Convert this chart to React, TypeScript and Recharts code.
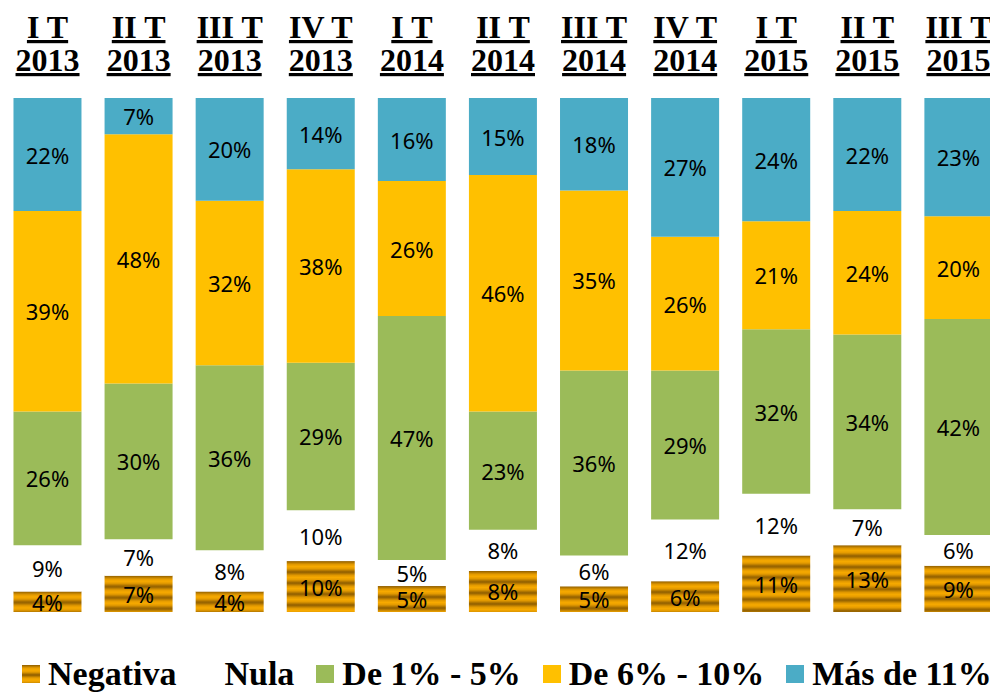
import React from 'react'
import { BarChart, Bar, XAxis, YAxis, LabelList, Legend } from 'recharts'

const quarters = ['I T', 'II T', 'III T', 'IV T', 'I T', 'II T', 'III T', 'IV T', 'I T', 'II T', 'III T']
const years = ['2013', '2013', '2013', '2013', '2014', '2014', '2014', '2014', '2015', '2015', '2015']

const negativa = [4, 7, 4, 10, 5, 8, 5, 6, 11, 13, 9]
const nula = [9, 7, 8, 10, 5, 8, 6, 12, 12, 7, 6]
const de1a5 = [26, 30, 36, 29, 47, 23, 36, 29, 32, 34, 42]
const de6a10 = [39, 48, 32, 38, 26, 46, 35, 26, 21, 24, 20]
const mas11 = [22, 7, 20, 14, 16, 15, 18, 27, 24, 22, 23]

const data = quarters.map((q, i) => ({
  name: `${q}|${years[i]}`,
  negativa: negativa[i],
  nula: nula[i],
  de1a5: de1a5[i],
  de6a10: de6a10[i],
  mas11: mas11[i],
}))

const series = [
  { key: 'negativa', name: 'Negativa', color: '#D08A00' },
  { key: 'nula', name: 'Nula', color: '#FFFFFF' },
  { key: 'de1a5', name: 'De 1% - 5%', color: '#9BBB59' },
  { key: 'de6a10', name: 'De 6% - 10%', color: '#FFC000' },
  { key: 'mas11', name: 'Más de 11%', color: '#4BACC6' },
]

const serif = '"Liberation Serif", "Times New Roman", serif'
const sans = '"Noto Sans", "Open Sans", sans-serif'
const stripes = 'repeating-linear-gradient(180deg, #8C5C00 0px, #E89E00 3px, #F7AA00 5px, #E89E00 7px, #8C5C00 10px)'

// striped fill for the "Negativa" segments
const StripedBar = (props: any) => {
  const { x, y, width, height, index } = props
  if (!height || height <= 0) return null
  const pid = `neg-pat-${index}`
  const gid = `neg-grad-${index}`
  return (
    <g>
      <defs>
        <linearGradient id={gid} x1="0" y1="0" x2="0" y2="1">
          <stop offset="0" stopColor="#8C5C00" />
          <stop offset="0.3" stopColor="#E39A00" />
          <stop offset="0.5" stopColor="#F7AA00" />
          <stop offset="0.7" stopColor="#E39A00" />
          <stop offset="1" stopColor="#8C5C00" />
        </linearGradient>
        <pattern id={pid} patternUnits="userSpaceOnUse" x={0} y={y} width={10} height={11}>
          <rect x={0} y={0} width={10} height={11} fill={`url(#${gid})`} />
        </pattern>
      </defs>
      <rect x={x} y={y} width={width} height={height} fill={`url(#${pid})`} />
    </g>
  )
}

const QuarterTick = (props: any) => {
  const { x, y, payload } = props
  const [q, yr] = String(payload.value).split('|')
  return (
    <text
      x={x}
      y={y}
      textAnchor="middle"
      fontFamily={serif}
      fontWeight="bold"
      fontSize={32}
      fill="#000"
      style={{ textDecoration: 'underline' }}
    >
      <tspan x={x} dy={-52}>{q}</tspan>
      <tspan x={x} dy={33}>{yr}</tspan>
    </text>
  )
}

const LegendBox = () => (
  <div style={{ height: 80, position: 'relative' }}>
    <div
      style={{
        position: 'absolute',
        left: 20,
        top: 44,
        display: 'flex',
        alignItems: 'center',
        whiteSpace: 'nowrap',
        fontFamily: serif,
        fontWeight: 'bold',
        fontSize: 34,
        lineHeight: '36px',
        color: '#000',
      }}
    >
      {series.map((s) => (
        <span key={s.key} style={{ display: 'flex', alignItems: 'center', marginRight: 22 }}>
          <span
            style={{
              display: 'inline-block',
              width: 18,
              height: 18,
              marginRight: 8,
              background: s.key === 'negativa' ? stripes : s.color,
            }}
          />
          {s.name}
        </span>
      ))}
    </div>
  </div>
)

const renderLabel = (props: any) => {
  const { x, y, width, height, value } = props
  return (
    <text
      x={x + width / 2}
      y={y + height / 2}
      textAnchor="middle"
      dominantBaseline="central"
      fontFamily={sans}
      fontSize={22}
      fill="#000"
    >
      {`${value}%`}
    </text>
  )
}

export default function App() {
  return (
    <div style={{ position: 'absolute', left: 0, top: 0, width: 990, height: 692, overflow: 'hidden' }}>
      <BarChart
        width={1004}
        height={692}
        data={data}
        stackOffset="expand"
        barCategoryGap="12.6%"
        margin={{ top: 0, right: 0, bottom: 0, left: 2 }}
      >
        <XAxis
          dataKey="name"
          orientation="top"
          height={98}
          axisLine={false}
          tickLine={false}
          interval={0}
          tick={<QuarterTick />}
        />
        <YAxis hide />
        <Legend verticalAlign="bottom" content={<LegendBox />} />
        {series.map((s) => (
          <Bar
            key={s.key}
            dataKey={s.key}
            name={s.name}
            stackId="a"
            fill={s.color}
            isAnimationActive={false}
            shape={s.key === 'negativa' ? <StripedBar /> : undefined}
          >
            <LabelList dataKey={s.key} content={renderLabel} />
          </Bar>
        ))}
      </BarChart>
    </div>
  )
}
